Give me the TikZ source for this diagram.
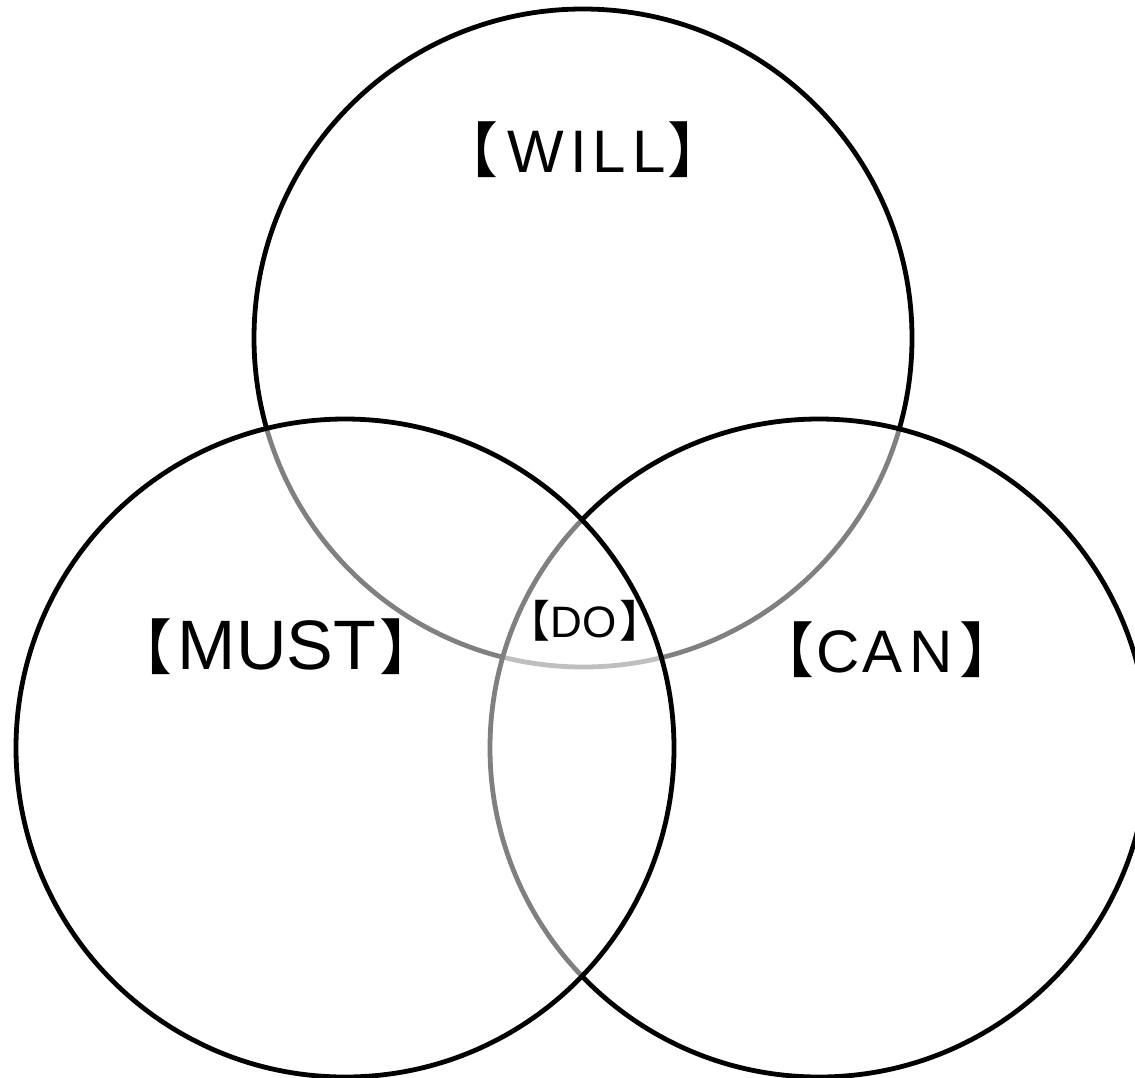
\documentclass[tikz,border=0pt]{standalone}
\usepackage{fontspec}
\setmainfont{Liberation Sans}
\newfontfamily\brk{Noto Sans CJK JP}
% lenticular brackets at a given size
\newcommand\opbr[1]{{\fontsize{#1}{#1}\selectfont\brk 【}}
\newcommand\clbr[1]{{\fontsize{#1}{#1}\selectfont\brk 】}}
\begin{document}
\begin{tikzpicture}[x=1pt,y=-1pt,
  ring/.style={circle, draw=black, line width=4.8pt, inner sep=0pt, minimum size=658pt},
  veil/.style={ring, fill=white, fill opacity=0.5},
  label/.style={inner sep=0pt, text=black}]
\useasboundingbox (0,0) rectangle (1135,1077);
% three overlapping sets; later circles veil the outlines beneath them
\node[ring] (will) at (583,338) {};
\node[veil] (can) at (819,748) {};
\node[veil] (must) at (345,748) {};
% set names
\node[label, font=\fontsize{60}{60}\selectfont] (willtxt) at (583,150)
  {\opbr{60}\hspace{9pt}W\kern6pt I\kern6pt L\kern6pt L\hspace{2pt}\clbr{60}};
\node[label, font=\fontsize{70}{70}\selectfont] (musttxt) at (276,647)
  {\opbr{60}\hspace{5pt}MUST\hspace{3pt}\clbr{60}};
\node[label, font=\fontsize{60}{60}\selectfont] (cantxt) at (887,650)
  {\opbr{60}\hspace{2pt}C\kern3pt A\kern7pt N\hspace{6pt}\clbr{60}};
\node[label, font=\fontsize{44}{44}\selectfont] (dotxt) at (585,621)
  {\opbr{44}DO\hspace{3pt}\clbr{44}};
\end{tikzpicture}
\end{document}
